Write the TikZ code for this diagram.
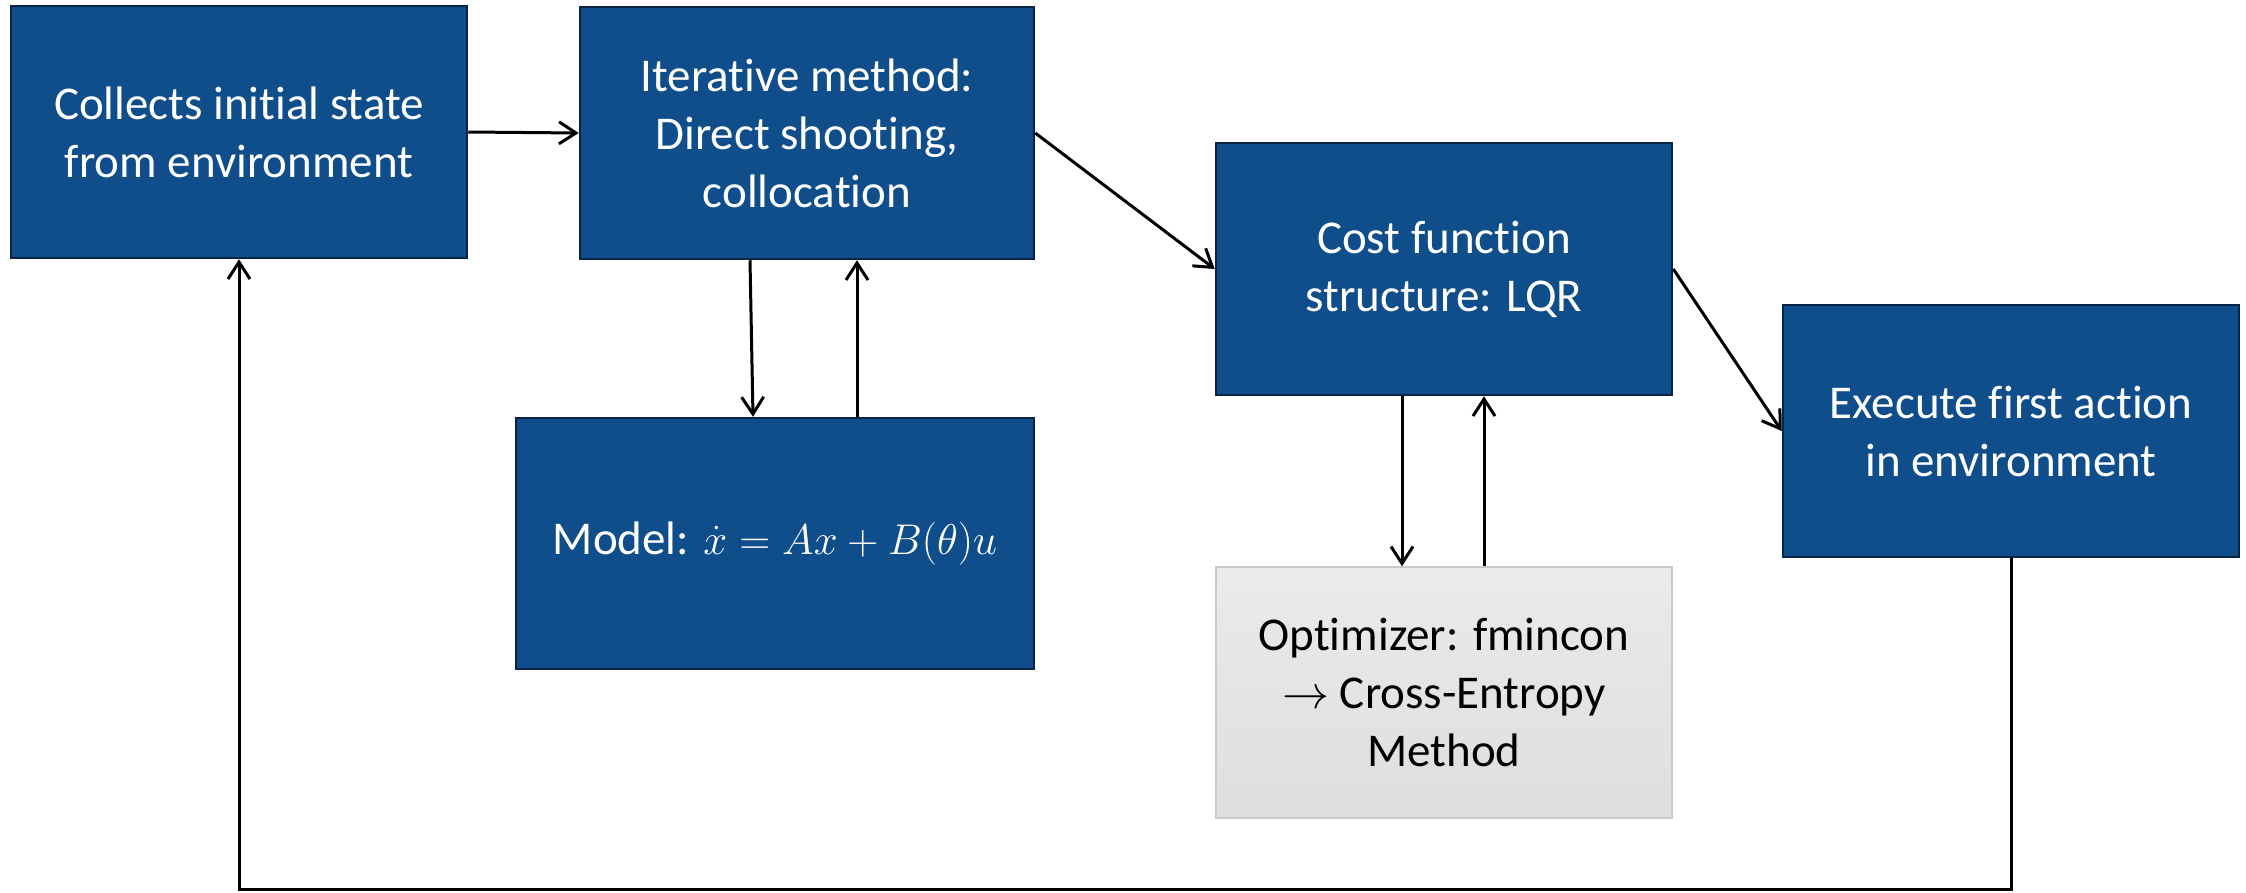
\RequirePackage{fix-cm}
\documentclass[tikz,border=0pt]{standalone}
\usepackage{fontspec}
\setmainfont{Carlito}[Ligatures=NoCommon]
\usetikzlibrary{arrows.meta}
\definecolor{boxblue}{HTML}{0F4E8B}
\definecolor{boxedge}{HTML}{0B2446}
\definecolor{grayedge}{HTML}{C9C9C9}
\begin{document}
\begin{tikzpicture}[x=1pt,y=-1pt,
  bluebox/.style={draw=boxedge, line width=2.5pt, fill=boxblue, text=white,
    align=center, inner sep=0pt, font=\fontsize{47}{58}\selectfont},
  graybox/.style={draw=grayedge, line width=1.5pt, top color=black!8, bottom color=black!13,
    text=black, align=center, inner sep=0pt, font=\fontsize{47}{58}\selectfont},
  arr/.style={draw=black, line width=3pt, -{Straight Barb[length=17pt,width=22pt,line width=3pt]}}]
\useasboundingbox (0,0) rectangle (2246,892);

\node[bluebox, minimum width=456pt, minimum height=252pt] (coll) at (239,132)
  {Collects initial state\\from environment};
\node[bluebox, minimum width=454pt, minimum height=252pt] (iter) at (807,133)
  {Iterative method:\\Direct shooting,\\collocation};
\node[bluebox, minimum width=518pt, minimum height=251pt] (model) at (775,543.5)
  {Model: {\fontsize{43}{58}\selectfont$\dot{x} = Ax + B(\theta)u$}};
\node[bluebox, minimum width=456pt, minimum height=252pt] (cost) at (1444,269)
  {Cost function\\structure: LQR};
\node[graybox, minimum width=456pt, minimum height=251pt] (opt) at (1444,692.5)
  {Optimizer: fmincon\\$\rightarrow$ Cross-Entropy\\Method};
\node[bluebox, minimum width=456pt, minimum height=252pt] (exec) at (2011,431)
  {Execute first action\\in environment};

\draw[arr] (coll.east) -- (iter.west);
\draw[arr] (iter.east) -- (cost.west);
\draw[arr] (cost.east) -- (exec.west);
\draw[arr] ([xshift=-57pt]iter.south) -- ([xshift=-22pt]model.north);
\draw[arr] ([xshift=82pt]model.north) -- ([xshift=50pt]iter.south);
\draw[arr] ([xshift=-42pt]cost.south) -- ([xshift=-42pt]opt.north);
\draw[arr] ([xshift=40pt]opt.north) -- ([xshift=40pt]cost.south);
\coordinate (bot) at (0,889);
\coordinate (loopR) at (exec.south |- bot);
\draw[arr] (exec.south) -- (loopR) -| (coll.south);
\end{tikzpicture}
\end{document}
